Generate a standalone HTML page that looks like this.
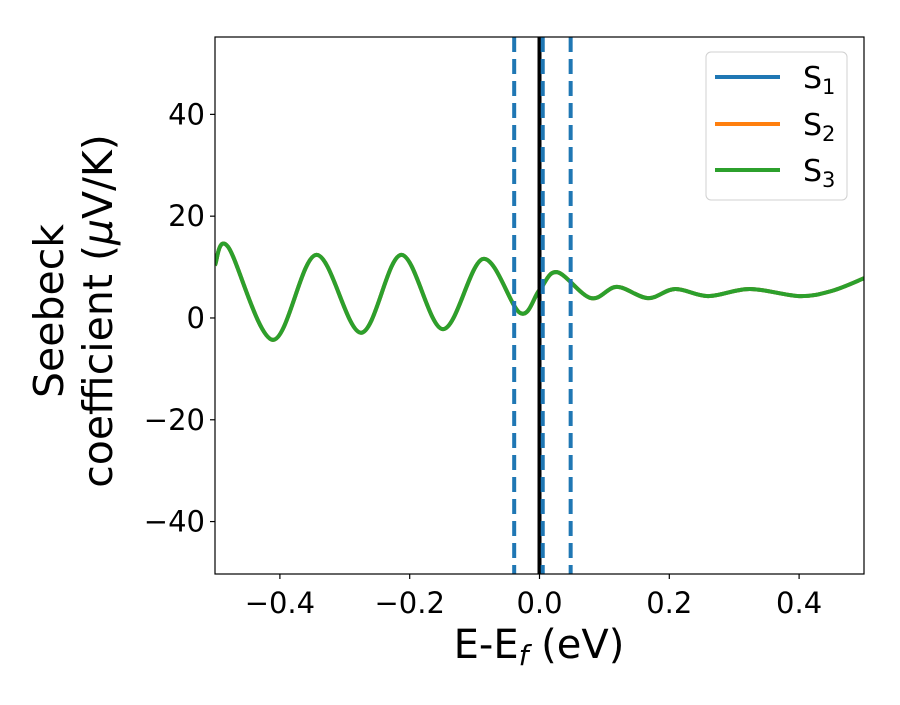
<!DOCTYPE html>
<html><head><meta charset="utf-8"><style>
body{margin:0;background:#fff}
svg text{font-family:"DejaVu Sans","Liberation Sans",sans-serif;fill:#000}
</style></head><body>
<svg width="900" height="700" xmlns="http://www.w3.org/2000/svg">
<g id="plot"></g>
</svg>
<script>
const xs=[-0.5,-0.48,-0.411,-0.344,-0.275,-0.213,-0.149,-0.087,-0.030,0.0,0.027,0.079,0.119,0.167,0.209,0.26,0.324,0.40,0.45,0.5];
const s1=[10.4,14.0,-4.3,12.4,-2.9,12.4,-2.2,11.6,1.0,5.5,9.0,3.9,6.1,3.9,5.7,4.3,5.7,4.3,5.3,7.8];
const s2=s1.slice();
const s3=s1.slice();
const xTicks=[-0.4,-0.2,0,0.2,0.4];
const xTickLabels=["\u22120.4","\u22120.2","0.0","0.2","0.4"];
const yTicks=[-40,-20,0,20,40];
const yTickLabels=["\u221240","\u221220","0","20","40"];
const dashedLines=[-0.039,0.005,0.048];
const solidLines=[0];
const L=215,R=864,T=37,B=574,xmin=-0.5,xmax=0.5,ymin=-50.3,ymax=55.2;
const X=v=>L+(v-xmin)/(xmax-xmin)*(R-L);
const Y=v=>B-(v-ymin)/(ymax-ymin)*(B-T);
const NS="http://www.w3.org/2000/svg";
const g=document.getElementById('plot');
function mk(t,a,p){const e=document.createElementNS(NS,t);for(const k in a)e.setAttribute(k,a[k]);(p||g).appendChild(e);return e;}
const cp=mk('clipPath',{id:'clip'});mk('rect',{x:L,y:T,width:R-L,height:B-T},cp);
function path(ys){const P=xs.map((x,i)=>[X(x),Y(ys[i])]);let d=`M${P[0][0]},${P[0][1]}`;
for(let i=0;i<P.length-1;i++){const p0=P[Math.max(i-1,0)],p1=P[i],p2=P[i+1],p3=P[Math.min(i+2,P.length-1)];
d+=` C${p1[0]+(p2[0]-p0[0])/6},${p1[1]+(p2[1]-p0[1])/6} ${p2[0]-(p3[0]-p1[0])/6},${p2[1]-(p3[1]-p1[1])/6} ${p2[0]},${p2[1]}`;}return d;}
[[s1,'#1f77b4','series-s1'],[s2,'#ff7f0e','series-s2'],[s3,'#2ca02c','series-s3']].forEach(([s,c,n])=>{
const e=mk('path',{d:path(s),fill:'none',stroke:c,'stroke-width':4,'clip-path':'url(#clip)'});

});
solidLines.forEach(v=>{const e=mk('line',{x1:X(v),x2:X(v),y1:T,y2:B,stroke:'#000','stroke-width':4});

});
dashedLines.forEach(v=>{const e=mk('line',{x1:X(v),x2:X(v),y1:T,y2:B,stroke:'#1f77b4','stroke-width':4,'stroke-dasharray':'15,7'});

});
const fr=mk('rect',{x:L,y:T,width:R-L,height:B-T,fill:'none',stroke:'#000','stroke-width':1.2});


xTicks.forEach((v,i)=>{mk('line',{x1:X(v),x2:X(v),y1:B,y2:B+5,stroke:'#000','stroke-width':1.2});
const t=mk('text',{x:X(v),y:B+39,'text-anchor':'middle','font-size':29});t.textContent=xTickLabels[i];

});
yTicks.forEach((v,i)=>{mk('line',{x1:L-5,x2:L,y1:Y(v),y2:Y(v),stroke:'#000','stroke-width':1.2});
const t=mk('text',{x:L-10,y:Y(v)+10,'text-anchor':'end','font-size':29});t.textContent=yTickLabels[i];

});
</script>
<svg width="900" height="700" style="position:absolute;left:0;top:0" xmlns="http://www.w3.org/2000/svg">
<text x="539" y="658" text-anchor="middle" font-size="40">E-E<tspan font-style="italic" font-size="28" dy="7">f</tspan><tspan dy="-7"> (eV)</tspan></text>
<g transform="translate(63,311) rotate(-90)">
<text x="0" y="0" text-anchor="middle" font-size="41">Seebeck</text>
<text x="0" y="49" text-anchor="middle" font-size="41">coefficient  (<tspan font-style="italic">μ</tspan>V/K)</text>
</g>
<g>
<rect x="706" y="52" width="141" height="148" rx="5" fill="#fff" fill-opacity="0.8" stroke="#d0d0d0" stroke-width="1"/>
<line x1="715" x2="780" y1="77" y2="77" stroke="#1f77b4" stroke-width="4"/>
<text x="803" y="88" font-size="30">S<tspan font-size="21" dy="6">1</tspan></text>
<line x1="715" x2="780" y1="124" y2="124" stroke="#ff7f0e" stroke-width="4"/>
<text x="803" y="135" font-size="30">S<tspan font-size="21" dy="6">2</tspan></text>
<line x1="715" x2="780" y1="170" y2="170" stroke="#2ca02c" stroke-width="4"/>
<text x="803" y="181" font-size="30">S<tspan font-size="21" dy="6">3</tspan></text>
</g>
</svg>
</body></html>
